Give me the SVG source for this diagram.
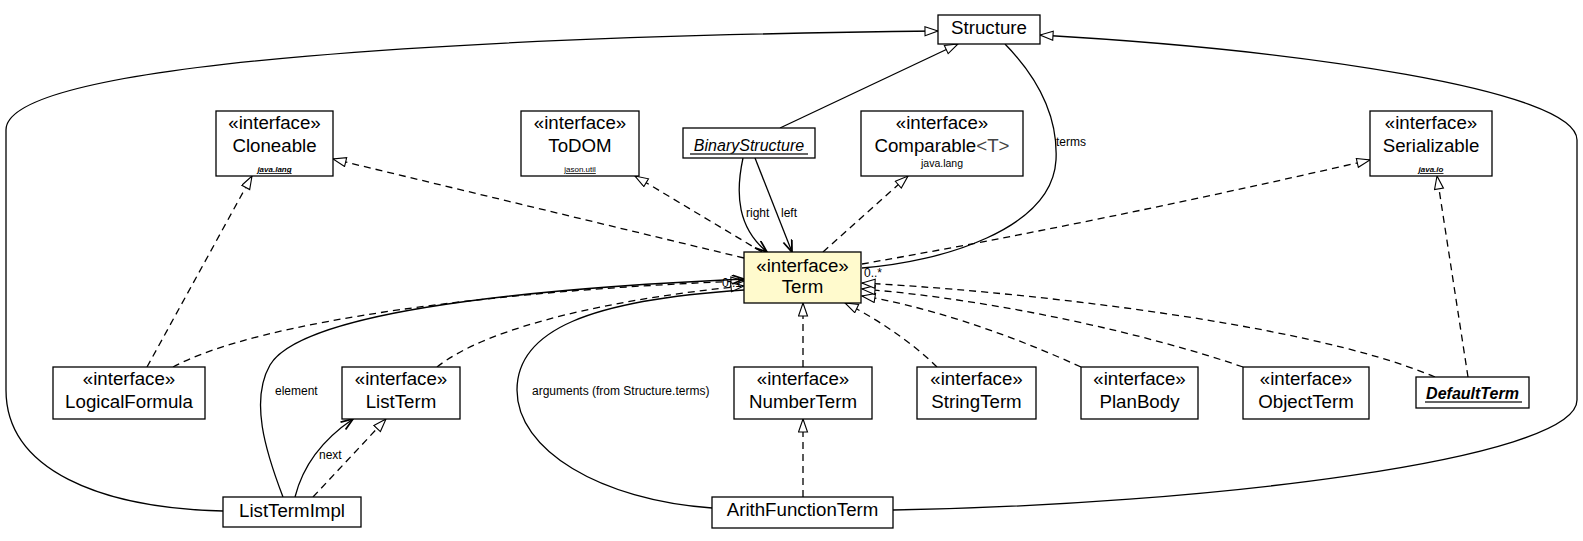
<svg xmlns="http://www.w3.org/2000/svg" width="1583" height="541" viewBox="0 0 1583 541">
<style>
.box{fill:#fff;stroke:#000;stroke-width:1.3}
.term{fill:#FFFACD}
text{font-family:"Liberation Sans",Arial,sans-serif;fill:#000}
.st{font-size:18.7px;text-anchor:middle}
.nm{font-size:18.7px;text-anchor:middle}
.pk{font-size:8px;text-anchor:middle;text-decoration:underline}
.pkb{font-size:8px;text-anchor:middle;text-decoration:underline;font-weight:bold;font-style:italic}
.lbl{font-size:12px}
.e{fill:none;stroke:#000;stroke-width:1.3}
.d{stroke-dasharray:7,5}
.ul{stroke:#333;stroke-width:1.5}
</style>
<defs>
<marker id="tri" markerWidth="16" markerHeight="12" refX="14" refY="5" orient="auto" markerUnits="userSpaceOnUse"><path d="M1,0.5 L14,5 L1,9.5 Z" fill="#fff" stroke="#000" stroke-width="1.1"/></marker>
<marker id="vee" markerWidth="16" markerHeight="12" refX="13" refY="5" orient="auto" markerUnits="userSpaceOnUse"><path d="M1,0.5 L13,5 L1,9.5" fill="none" stroke="#000" stroke-width="1.8"/></marker>
</defs>
<g id="connectors">
<path class="e" d="M223,511 C100,508 6,470 6,390 L6,130 C6,60 500,36 938,31" marker-end="url(#tri)"/>
<path class="e" d="M893,510 C1200,505 1577,460 1577,400 L1577,140 C1577,90 1300,50 1040,35" marker-end="url(#tri)"/>
<path class="e" d="M780,128 L958,44" marker-end="url(#tri)"/>
<path class="e" d="M1005,44 C1040,80 1058,120 1056,160 C1052,230 940,262 862,268"/>
<path class="e" d="M743,158 C735,195 738,228 767,252" marker-end="url(#vee)"/>
<path class="e" d="M755,158 L792,252" marker-end="url(#vee)"/>
<path class="e d" d="M744,258 L333,159" marker-end="url(#tri)"/>
<path class="e d" d="M762,252 L635,176" marker-end="url(#tri)"/>
<path class="e d" d="M823,252 L908,176" marker-end="url(#tri)"/>
<path class="e d" d="M862,264 Q1100,222 1370,160" marker-end="url(#tri)"/>
<path class="e d" d="M147,367 L252,176" marker-end="url(#tri)"/>
<path class="e d" d="M173,367 C260,320 500,290 744,281" marker-end="url(#tri)"/>
<path class="e d" d="M437,367 C490,325 620,298 744,286" marker-end="url(#tri)"/>
<path class="e" d="M283,497 C265,450 250,400 270,365 C300,315 500,290 744,279" marker-end="url(#vee)"/>
<path class="e" d="M712,508 C600,500 517,450 517,390 C517,330 590,300 744,290"/>
<path class="e d" d="M803,367 L803,303" marker-end="url(#tri)"/>
<path class="e d" d="M803,497 L803,419" marker-end="url(#tri)"/>
<path class="e d" d="M313,497 L386,419" marker-end="url(#tri)"/>
<path class="e" d="M295,497 C303,465 322,440 353,419" marker-end="url(#vee)"/>
<path class="e d" d="M937,367 C910,340 870,315 845,303" marker-end="url(#tri)"/>
<path class="e d" d="M1081,367 C1000,330 920,305 862,296" marker-end="url(#tri)"/>
<path class="e d" d="M1243,367 C1150,335 1000,300 862,289" marker-end="url(#tri)"/>
<path class="e d" d="M1435,377 C1300,320 1000,290 862,283" marker-end="url(#tri)"/>
<path class="e d" d="M1468,377 L1437,176" marker-end="url(#tri)"/>
<text class="lbl" x="1056" y="146">terms</text>
<text class="lbl" x="746" y="217">right</text>
<text class="lbl" x="781" y="217">left</text>
<text class="lbl" x="275" y="395">element</text>
<text class="lbl" x="319" y="459">next</text>
<text class="lbl" x="532" y="395">arguments (from Structure.terms)</text>
<text class="lbl" x="722" y="287">0..1</text>
<text class="lbl" x="864" y="277">0..*</text>
</g>
<g id="Structure"><rect class="box" x="938" y="15" width="102" height="29"/><text class="nm" x="989" y="34">Structure</text></g>
<g id="Cloneable"><rect class="box" x="216" y="111" width="117" height="65"/><text class="st" x="274.5" y="129">«interface»</text><text class="nm" x="274.5" y="152">Cloneable</text><text class="pkb" x="274.5" y="172">java.lang</text></g>
<g id="ToDOM"><rect class="box" x="521" y="111" width="118" height="65"/><text class="st" x="580" y="129">«interface»</text><text class="nm" x="580" y="152">ToDOM</text><text class="pk" x="580" y="172">jason.util</text></g>
<g id="BinaryStructure"><rect class="box" x="683" y="128" width="132" height="30"/><text x="749" y="151" style="font-size:16px;font-style:italic;text-anchor:middle">BinaryStructure</text><line class="ul" x1="690" y1="154" x2="808" y2="154"/></g>
<g id="Comparable"><rect class="box" x="861" y="111" width="162" height="65"/><text class="st" x="942" y="129">«interface»</text><text class="nm" x="942" y="152">Comparable<tspan fill="#444">&lt;T&gt;</tspan></text><text x="942" y="167" style="font-size:10.5px;text-anchor:middle">java.lang</text></g>
<g id="Serializable"><rect class="box" x="1370" y="111" width="122" height="65"/><text class="st" x="1431" y="129">«interface»</text><text class="nm" x="1431" y="152">Serializable</text><text class="pkb" x="1431" y="172">java.io</text></g>
<g id="Term"><rect class="box term" x="744" y="252" width="117" height="51"/><text class="st" x="802.5" y="272">«interface»</text><text class="nm" x="802.5" y="293">Term</text></g>
<g id="LogicalFormula"><rect class="box" x="53" y="367" width="152" height="52"/><text class="st" x="129" y="385">«interface»</text><text class="nm" x="129" y="408">LogicalFormula</text></g>
<g id="ListTerm"><rect class="box" x="342" y="367" width="118" height="52"/><text class="st" x="401" y="385">«interface»</text><text class="nm" x="401" y="408">ListTerm</text></g>
<g id="NumberTerm"><rect class="box" x="734" y="367" width="138" height="52"/><text class="st" x="803" y="385">«interface»</text><text class="nm" x="803" y="408">NumberTerm</text></g>
<g id="StringTerm"><rect class="box" x="917" y="367" width="119" height="52"/><text class="st" x="976.5" y="385">«interface»</text><text class="nm" x="976.5" y="408">StringTerm</text></g>
<g id="PlanBody"><rect class="box" x="1081" y="367" width="117" height="52"/><text class="st" x="1139.5" y="385">«interface»</text><text class="nm" x="1139.5" y="408">PlanBody</text></g>
<g id="ObjectTerm"><rect class="box" x="1243" y="367" width="126" height="52"/><text class="st" x="1306" y="385">«interface»</text><text class="nm" x="1306" y="408">ObjectTerm</text></g>
<g id="DefaultTerm"><rect class="box" x="1416" y="377" width="113" height="31"/><text x="1472.5" y="399" style="font-size:16px;font-style:italic;font-weight:bold;text-anchor:middle">DefaultTerm</text><line class="ul" x1="1425" y1="402" x2="1522" y2="402"/></g>
<g id="ListTermImpl"><rect class="box" x="223" y="497" width="138" height="30"/><text class="nm" x="292" y="517">ListTermImpl</text></g>
<g id="ArithFunctionTerm"><rect class="box" x="712" y="497" width="181" height="31"/><text class="nm" x="802.5" y="516">ArithFunctionTerm</text></g>
</svg>
